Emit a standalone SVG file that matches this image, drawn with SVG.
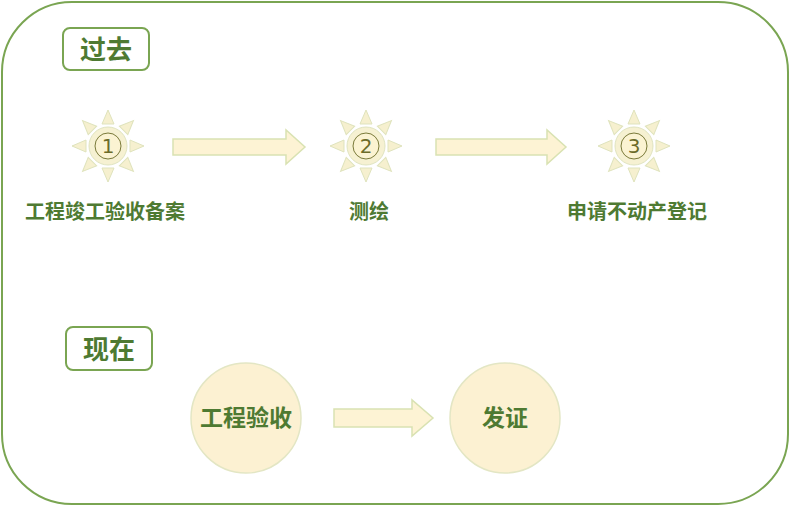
<svg xmlns="http://www.w3.org/2000/svg" width="790" height="506" viewBox="0 0 790 506">
<style>
.t{font-family:"Noto Sans CJK SC","Liberation Sans",sans-serif;font-weight:bold;fill:#4e7a32}
.box{fill:#fff;stroke:#7aa552;stroke-width:2}
.ray{fill:#f6f0cf;stroke:#dfe3bd;stroke-width:1}
.arr{fill:#fdf3d4;stroke:#d9e2b2;stroke-width:1.5}
</style>
<defs>
<g id="sun">
<g class="ray">
<polygon points="-6,-22 6,-22 0,-36"/>
<polygon points="-6,22 6,22 0,36"/>
<polygon points="-22,-6 -22,6 -36,0"/>
<polygon points="22,-6 22,6 36,0"/>
<polygon points="-6,-22 6,-22 0,-36" transform="rotate(45)"/>
<polygon points="-6,-22 6,-22 0,-36" transform="rotate(135)"/>
<polygon points="-6,-22 6,-22 0,-36" transform="rotate(225)"/>
<polygon points="-6,-22 6,-22 0,-36" transform="rotate(315)"/>
</g>
<circle r="19" fill="#f6f1d2" stroke="#e0e4c0"/>
<circle r="13" fill="#fbf3d2" stroke="#7a7a3a" stroke-width="1"/>
</g>
</defs>
<rect x="2" y="2" width="786" height="502" rx="70" fill="#fff" stroke="#7aa552" stroke-width="2"/>
<g id="past"><rect class="box" x="63" y="28" width="86" height="42" rx="7"/><text class="t" x="106" y="59" font-size="26" text-anchor="middle">过去</text></g>
<g id="now"><rect class="box" x="66" y="327" width="86" height="43" rx="7"/><text class="t" x="109" y="359" font-size="26" text-anchor="middle">现在</text></g>
<g id="s1"><use href="#sun" x="108" y="146"/><text x="108" y="153" font-family="DejaVu Sans,sans-serif" font-size="20" text-anchor="middle" fill="#6b6b2a">1</text><text class="t" x="105" y="219" font-size="20" text-anchor="middle">工程竣工验收备案</text></g>
<g id="s2"><use href="#sun" x="366" y="146"/><text x="366" y="153" font-family="DejaVu Sans,sans-serif" font-size="20" text-anchor="middle" fill="#6b6b2a">2</text><text class="t" x="369" y="219" font-size="20" text-anchor="middle">测绘</text></g>
<g id="s3"><use href="#sun" x="634" y="146"/><text x="634" y="153" font-family="DejaVu Sans,sans-serif" font-size="20" text-anchor="middle" fill="#6b6b2a">3</text><text class="t" x="637" y="219" font-size="20" text-anchor="middle">申请不动产登记</text></g>
<g id="c1"><circle cx="246" cy="418" r="55" fill="#fcf1d2" stroke="#e3e6c4" stroke-width="1.5"/><text class="t" x="246" y="426" font-size="23" text-anchor="middle">工程验收</text></g>
<g id="c2"><circle cx="505" cy="418" r="55" fill="#fcf1d2" stroke="#e3e6c4" stroke-width="1.5"/><text class="t" x="505" y="426" font-size="23" text-anchor="middle">发证</text></g>
<g id="connectors">
<polygon class="arr" points="173,139 286,139 286,130 305,147 286,164 286,155 173,155"/>
<polygon class="arr" points="436,139 547,139 547,130 566,147 547,164 547,155 436,155"/>
<polygon class="arr" points="334,409 412,409 412,400 433,418 412,436 412,427 334,427"/>
</g>
</svg>
